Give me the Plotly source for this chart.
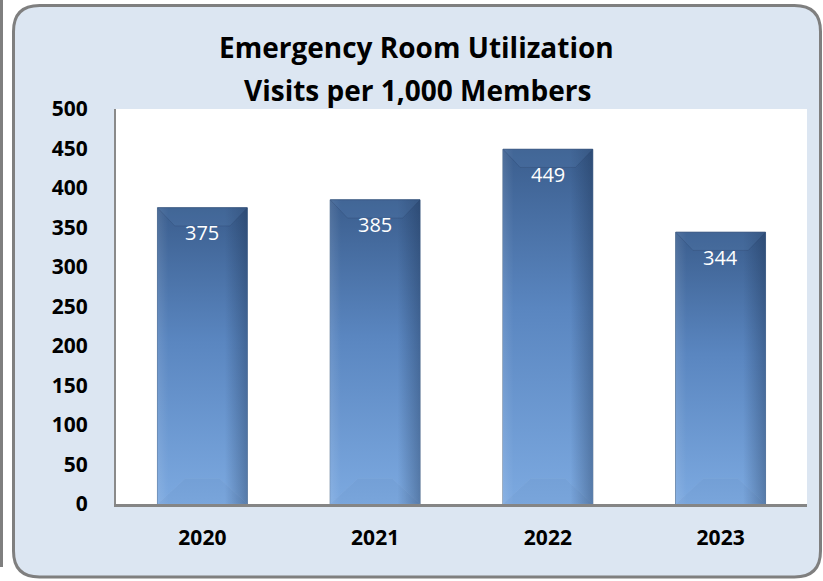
import plotly.graph_objects as go

# Emergency room visits per 1,000 members, by year
years = ["2020", "2021", "2022", "2023"]
visits = [375, 385, 449, 344]
y_ticks = [0, 50, 100, 150, 200, 250, 300, 350, 400, 450, 500]

W, H = 823, 581
ML, MR, MT, MB = 116, 16, 109, 77
PW, PH = W - ML - MR, H - MT - MB

FONT = "Open Sans"
BAR_W = 0.52
TOP_DARK = "#3b5e8e"
BOTTOM_LIGHT = "#7ca9e0"


def px(x):
    return (x - ML) / PW


def py(y):
    return (H - MB - y) / PH


xs = list(range(len(years)))
fig = go.Figure()

# base bars carry the values
fig.add_trace(go.Bar(
    x=xs, y=visits, width=BAR_W,
    marker=dict(color="#5682bd", line=dict(color="#56708f", width=1)),
    hoverinfo="x+y", showlegend=False,
))

# bevel sizes in axis units
bev_x = 0.10
bev_y = 23

for i, v in zip(xs, visits):
    x0, x1 = i - BAR_W / 2, i + BAR_W / 2
    # vertical gradient body: dark at the top, light at the bottom
    fig.add_trace(go.Scatter(
        x=[x0, x1, x1, x0, x0], y=[0, 0, v, v, 0],
        mode="lines", line=dict(width=0), fill="toself",
        fillgradient=dict(type="vertical", start=0, stop=v,
                          colorscale=[[0, BOTTOM_LIGHT], [0.55, "#5a86c0"], [1, TOP_DARK]]),
        hoverinfo="skip", showlegend=False,
    ))
    # side shading: darker toward the right edge
    fig.add_trace(go.Scatter(
        x=[x0, x1, x1, x0, x0], y=[0, 0, v, v, 0],
        mode="lines", line=dict(width=0), fill="toself",
        fillgradient=dict(type="horizontal", start=x0, stop=x1,
                          colorscale=[[0, "rgba(255,255,255,0.10)"], [0.12, "rgba(255,255,255,0)"],
                                      [0.75, "rgba(20,40,70,0)"], [1, "rgba(20,40,70,0.35)"]]),
        hoverinfo="skip", showlegend=False,
    ))
    # top bevel
    fig.add_trace(go.Scatter(
        x=[x0, x1, x1 - bev_x, x0 + bev_x, x0], y=[v, v, v - bev_y, v - bev_y, v],
        mode="lines", line=dict(width=0.6, color="rgba(40,65,100,0.45)"), fill="toself",
        fillcolor="rgba(90,130,180,0.22)",
        hoverinfo="skip", showlegend=False,
    ))
    # bottom bevel
    fig.add_trace(go.Scatter(
        x=[x0, x1, x1 - bev_x * 1.6, x0 + bev_x * 1.6, x0], y=[0, 0, bev_y * 1.4, bev_y * 1.4, 0],
        mode="lines", line=dict(width=0.5, color="rgba(255,255,255,0.08)"), fill="toself",
        fillcolor="rgba(90,120,160,0.07)",
        hoverinfo="skip", showlegend=False,
    ))

# value labels inside the top of each bar
annotations = [
    dict(x=i, y=v, text=str(v), showarrow=False, yshift=-25, xref="x", yref="y",
         yanchor="middle", font=dict(family=FONT, size=20, color="white"))
    for i, v in zip(xs, visits)
]

# two-line heading
annotations += [
    dict(x=px(416), y=py(47), xref="paper", yref="paper", showarrow=False,
         xanchor="center", yanchor="middle",
         text="<b>Emergency Room Utilization</b>",
         font=dict(family=FONT, size=28, color="black")),
    dict(x=px(417), y=py(90), xref="paper", yref="paper", showarrow=False,
         xanchor="center", yanchor="middle",
         text="<b>Visits per 1,000 Members</b>",
         font=dict(family=FONT, size=28, color="black")),
]

# rounded panel behind the chart
L, R, T, B, rad = 13.5, 820.5, 5.5, 577, 26
panel = (
    f"M {px(L)},{py(T + rad)} Q {px(L)},{py(T)} {px(L + rad)},{py(T)} "
    f"L {px(R - rad)},{py(T)} Q {px(R)},{py(T)} {px(R)},{py(T + rad)} "
    f"L {px(R)},{py(B - rad)} Q {px(R)},{py(B)} {px(R - rad)},{py(B)} "
    f"L {px(L + rad)},{py(B)} Q {px(L)},{py(B)} {px(L)},{py(B - rad)} Z"
)

shapes = [
    dict(type="path", path=panel, xref="paper", yref="paper", layer="below",
         fillcolor="#dce6f2", line=dict(color="#7f7f7f", width=3)),
    dict(type="rect", x0=0, x1=1, y0=0, y1=1, xref="paper", yref="paper", layer="below",
         fillcolor="white", line=dict(width=0)),
    # edge of the neighbouring panel
    dict(type="line", x0=px(1.5), x1=px(1.5), y0=py(0), y1=py(567), xref="paper", yref="paper",
         line=dict(color="#7f7f7f", width=3)),
]

fig.update_layout(
    width=W, height=H,
    margin=dict(l=ML, r=MR, t=MT, b=MB, pad=0),
    paper_bgcolor="white", plot_bgcolor="rgba(0,0,0,0)",
    annotations=annotations, shapes=shapes,
    bargap=0.48,
    xaxis=dict(range=[-0.5, len(years) - 0.5], tickvals=xs, ticktext=years,
               showgrid=False, zeroline=False, showline=True, linecolor="#858585", linewidth=2.5,
               ticks="", ticklabelstandoff=13,
               tickfont=dict(family=FONT, size=21, color="black", weight="bold"), fixedrange=True),
    yaxis=dict(range=[0, 500], tickvals=y_ticks, showgrid=False, zeroline=False,
               showline=True, linecolor="#8a8a8a", linewidth=2,
               ticks="", ticklabelstandoff=22,
               tickfont=dict(family=FONT, size=21, color="black", weight="bold"), fixedrange=True),
)

fig.write_html("out.html")
